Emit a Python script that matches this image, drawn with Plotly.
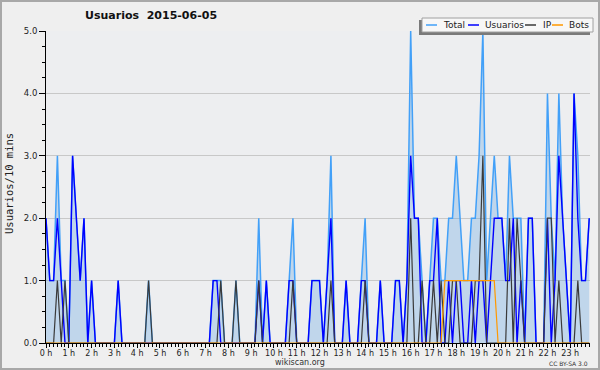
import plotly.graph_objects as go

# ---- data (10-minute slots, 6 per hour, one row per hour) ----
hour_labels = [f"{h} h" for h in range(24)]
y_tick_values = [0, 1, 2, 3, 4, 5]
y_tick_labels = ["0.0", "1.0", "2.0", "3.0", "4.0", "5.0"]

total = [
    2, 1, 1, 3, 1, 1,
    0, 3, 2, 1, 2, 0,
    1, 0, 0, 0, 0, 0,
    0, 1, 0, 0, 0, 0,
    0, 0, 0, 1, 0, 0,
    0, 0, 0, 0, 0, 0,
    0, 0, 0, 0, 0, 0,
    0, 0, 1, 1, 1, 0,
    0, 0, 1, 0, 0, 0,
    0, 0, 2, 0, 1, 0,
    0, 0, 0, 0, 1, 2,
    0, 0, 0, 0, 1, 1,
    1, 0, 1, 3, 0, 0,
    0, 1, 0, 0, 0, 1,
    2, 0, 0, 0, 1, 0,
    0, 0, 1, 1, 0, 1,
    5, 2, 2, 1, 0, 1,
    2, 2, 1, 1, 2, 2,
    3, 2, 1, 1, 2, 2,
    3, 5, 1, 2, 3, 2,
    2, 1, 3, 2, 2, 2,
    0, 2, 2, 0, 0, 0,
    4, 2, 1, 4, 2, 1,
    0, 4, 3, 1, 1, 2,
]
usuarios = [
    2, 1, 1, 2, 1, 0,
    0, 3, 2, 1, 2, 0,
    1, 0, 0, 0, 0, 0,
    0, 1, 0, 0, 0, 0,
    0, 0, 0, 0, 0, 0,
    0, 0, 0, 0, 0, 0,
    0, 0, 0, 0, 0, 0,
    0, 0, 1, 1, 0, 0,
    0, 0, 0, 0, 0, 0,
    0, 0, 1, 0, 1, 0,
    0, 0, 0, 0, 1, 1,
    0, 0, 0, 0, 1, 1,
    1, 0, 1, 2, 0, 0,
    0, 1, 0, 0, 0, 1,
    1, 0, 0, 0, 1, 0,
    0, 0, 1, 1, 0, 1,
    3, 2, 2, 0, 0, 1,
    1, 2, 0, 0, 1, 0,
    1, 1, 0, 0, 1, 0,
    1, 1, 0, 1, 2, 2,
    2, 1, 1, 2, 0, 1,
    0, 2, 2, 0, 0, 0,
    2, 0, 1, 3, 2, 1,
    0, 4, 2, 1, 1, 2,
]
ip = [
    0, 0, 0, 1, 0, 1,
    0, 0, 0, 0, 0, 0,
    0, 0, 0, 0, 0, 0,
    0, 0, 0, 0, 0, 0,
    0, 0, 0, 1, 0, 0,
    0, 0, 0, 0, 0, 0,
    0, 0, 0, 0, 0, 0,
    0, 0, 0, 0, 1, 0,
    0, 0, 1, 0, 0, 0,
    0, 0, 1, 0, 0, 0,
    0, 0, 0, 0, 0, 1,
    0, 0, 0, 0, 0, 0,
    0, 0, 0, 1, 0, 0,
    0, 0, 0, 0, 0, 0,
    1, 0, 0, 0, 0, 0,
    0, 0, 0, 0, 0, 0,
    2, 0, 0, 1, 0, 0,
    1, 0, 1, 0, 0, 1,
    1, 0, 0, 0, 0, 1,
    1, 3, 0, 0, 0, 0,
    0, 0, 2, 0, 2, 1,
    0, 0, 0, 0, 0, 0,
    2, 2, 0, 1, 0, 0,
    0, 0, 1, 0, 0, 0,
]
bots = [
    0, 0, 0, 0, 0, 0,
    0, 0, 0, 0, 0, 0,
    0, 0, 0, 0, 0, 0,
    0, 0, 0, 0, 0, 0,
    0, 0, 0, 0, 0, 0,
    0, 0, 0, 0, 0, 0,
    0, 0, 0, 0, 0, 0,
    0, 0, 0, 0, 0, 0,
    0, 0, 0, 0, 0, 0,
    0, 0, 0, 0, 0, 0,
    0, 0, 0, 0, 0, 0,
    0, 0, 0, 0, 0, 0,
    0, 0, 0, 0, 0, 0,
    0, 0, 0, 0, 0, 0,
    0, 0, 0, 0, 0, 0,
    0, 0, 0, 0, 0, 0,
    0, 0, 0, 0, 0, 0,
    0, 0, 0, 1, 1, 1,
    1, 1, 1, 1, 1, 1,
    1, 1, 1, 1, 1, 0,
    0, 0, 0, 0, 0, 0,
    0, 0, 0, 0, 0, 0,
    0, 0, 0, 0, 0, 0,
    0, 0, 0, 0, 0, 0,
]
series_names = ["Total", "Usuarios", "IP", "Bots"]
series_colors = ["#42a0f8", "#0000ff", "#3a3a3a", "#ff9900"]
title_text = "Usuarios\u00a0\u00a02015-06-05"
y_title = "Usuarios/10 mins"

slot = list(range(len(total)))  # 10-minute slot index

# ---- geometry ----
W, H = 600, 370
L, R, T, B = 46, 10, 31, 27
pw, ph = W - L - R, H - T - B


def px(x):
    return (x - L) / pw


def py(y):
    return (H - B - y) / ph


FONT = "DejaVu Sans"
fig = go.Figure()
fig.add_trace(go.Scatter(x=slot, y=total, mode="lines", name=series_names[0],
                         line=dict(color=series_colors[0], width=1.5),
                         fill="tozeroy", fillcolor="rgba(90,160,225,0.3)",
                         showlegend=False))
fig.add_trace(go.Scatter(x=slot, y=usuarios, mode="lines", name=series_names[1],
                         line=dict(color=series_colors[1], width=1.4), showlegend=False))
fig.add_trace(go.Scatter(x=slot, y=ip, mode="lines", name=series_names[2],
                         line=dict(color=series_colors[2], width=1.2), showlegend=False))
fig.add_trace(go.Scatter(x=slot, y=bots, mode="lines", name=series_names[3],
                         line=dict(color=series_colors[3], width=1.2), showlegend=False))

fig.update_layout(
    width=W, height=H,
    margin=dict(l=L, r=R, t=T, b=B, pad=0),
    paper_bgcolor="#efefef", plot_bgcolor="#edeef0",
    font=dict(family=FONT, size=9, color="#222"),
    xaxis=dict(range=[0, 143.2], tickmode="array",
               tickvals=[6 * h for h in range(24)], ticktext=hour_labels,
               ticks="outside", ticklen=4, tickcolor="black", tickwidth=1,
               ticklabelstandoff=-2,
               showline=True, linecolor="black", linewidth=1,
               showgrid=False, zeroline=False,
               tickfont=dict(size=8, family=FONT, color="#222"),
               minor=dict(tickmode="array", tickvals=slot, ticklen=3,
                          tickcolor="black", ticks="outside", showgrid=False)),
    yaxis=dict(range=[0, 5], tickmode="array", tickvals=y_tick_values,
               ticktext=y_tick_labels,
               ticks="outside", ticklen=6, tickcolor="black", tickwidth=1,
               showline=True, linecolor="black", linewidth=1,
               showgrid=True, gridcolor="#c8c8c8", gridwidth=1, zeroline=False,
               tickfont=dict(size=8.5, family=FONT, color="#222"),
               minor=dict(tickmode="array",
                          tickvals=[v / 4 for v in range(21)], ticklen=3,
                          tickcolor="black", ticks="outside", showgrid=False)),
)

shapes = []
# outer border
shapes.append(dict(type="rect", xref="paper", yref="paper",
                   x0=px(1), x1=px(599), y0=py(369), y1=py(1),
                   line=dict(color="#a8a8a8", width=2), layer="above"))
# legend shadow + box
shapes.append(dict(type="rect", xref="paper", yref="paper",
                   x0=px(419), x1=px(590), y0=py(35), y1=py(20),
                   fillcolor="#7a7a7a", line=dict(width=0), layer="above"))
shapes.append(dict(type="rect", xref="paper", yref="paper",
                   x0=px(422), x1=px(593), y0=py(32), y1=py(18),
                   fillcolor="#f7f7f7", line=dict(color="#a0a0a0", width=1),
                   layer="above"))
legend_line_x = [426, 468, 525, 552]
legend_text_x = [441, 483, 541, 567]
ly = 25
annotations = []
for name, col, lx, tx in zip(series_names, series_colors, legend_line_x, legend_text_x):
    shapes.append(dict(type="line", xref="paper", yref="paper",
                       x0=px(lx), x1=px(lx + 11), y0=py(ly), y1=py(ly),
                       line=dict(color=col, width=1.5), layer="above"))
    annotations.append(dict(text=name, xref="paper", yref="paper",
                            x=px(tx), y=py(ly), xanchor="left", yanchor="middle",
                            showarrow=False, font=dict(size=9, family=FONT, color="#222")))

annotations += [
    dict(text=f"<b>{title_text}</b>", xref="paper", yref="paper",
         x=px(151), y=py(16), xanchor="center", yanchor="middle", showarrow=False,
         font=dict(size=11, family=FONT, color="#111")),
    dict(text=y_title, xref="paper", yref="paper", x=px(9), y=py(184),
         xanchor="center", yanchor="middle", textangle=-90, showarrow=False,
         font=dict(size=10.5, family="DejaVu Sans Mono", color="#222")),
    dict(text="wikiscan.org", xref="paper", yref="paper", x=px(300), y=py(362),
         xanchor="center", yanchor="middle", showarrow=False,
         font=dict(size=8, family=FONT, color="#333")),
    dict(text="CC BY-SA 3.0", xref="paper", yref="paper", x=px(590), y=py(363),
         xanchor="right", yanchor="middle", showarrow=False,
         font=dict(size=6, family=FONT, color="#333")),
]
fig.update_layout(shapes=shapes, annotations=annotations)
fig.write_html("out.html", config={"displayModeBar": False},
               post_script="document.body.style.margin='0';document.body.style.padding='0';document.body.style.overflow='hidden';")
